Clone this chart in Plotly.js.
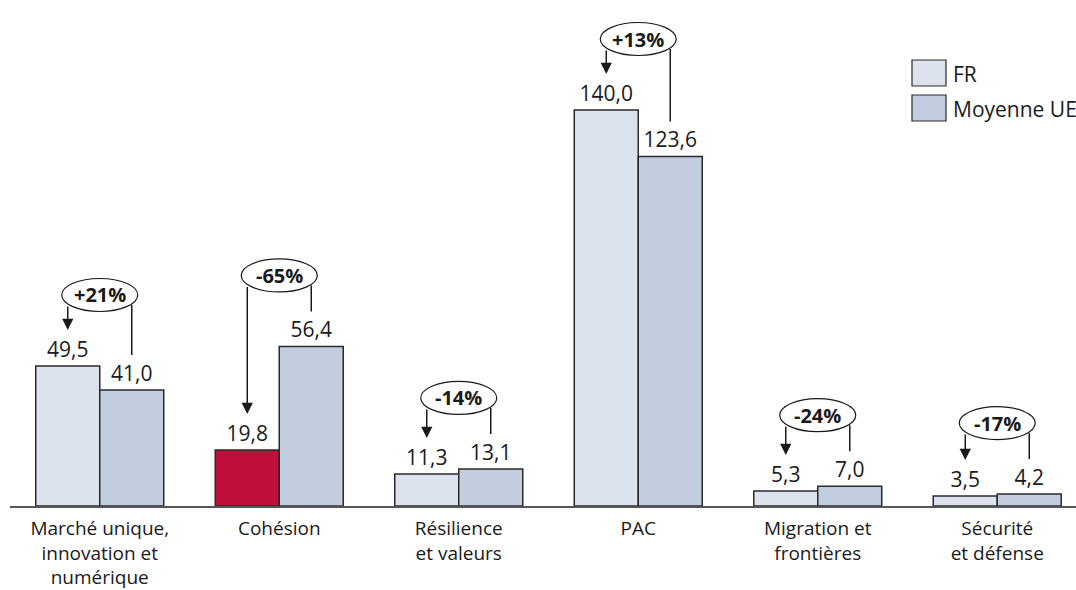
<!DOCTYPE html>
<html><head><meta charset="utf-8">
<script src="https://cdn.plot.ly/plotly-3.0.1.min.js"></script>
<style>html,body{margin:0;padding:0;background:#fff;overflow:hidden}#chart{width:1076px;height:590px;}</style>
</head><body><div id="chart"></div>
<script>
// ---- data ----
const categories = ['Marché unique,<br>innovation et<br>numérique', 'Cohésion', 'Résilience<br>et valeurs', 'PAC', 'Migration et<br>frontières', 'Sécurité<br>et défense'];
const frValues = [49.5, 19.8, 11.3, 140.0, 5.3, 3.5];
const ueValues = [41.0, 56.4, 13.1, 123.6, 7.0, 4.2];
const seriesNames = ['FR', 'Moyenne UE'];
const highlightCategory = 'Cohésion';

// ---- styles / layout constants ----
const FONT = '"Open Sans", sans-serif';
const FR_COLOR = '#DCE3EE', UE_COLOR = '#C3CDDF', HL_COLOR = '#C20E3A', EDGE = '#2a2a2a', TXT = '#1a1a1a';
const W = 1076, H = 590, ML = 10, MR = 0, MT = 0, MB = 84;
const plotW = W - ML - MR, plotH = H - MT - MB;
const catPx = 179.5;
const xMin = -0.5, xMax = xMin + plotW / catPx;
const pxPerUnit = 2.8286;
const yMax = plotH / pxPerUnit;
const bargap = 0.287;
const half = (1 - bargap) / 4; // offset of each bar center from category center
const u = px => px / pxPerUnit;      // px -> y units
const cu = px => px / catPx;         // px -> x units
const xp = px => (px - ML) / plotW;  // px -> paper x
const yp = py => (H - MB - py) / plotH; // px -> paper y

const frColors = categories.map(c => c.replace(/<br>/g, ' ') === highlightCategory ? HL_COLOR : FR_COLOR);

const traces = [
  {type: 'bar', name: seriesNames[0], x: categories, y: frValues,
   marker: {color: frColors, line: {color: EDGE, width: 1.5}},
   texttemplate: '%{y:.1f}', textposition: 'outside', cliponaxis: false,
   textfont: {family: FONT, size: 21, color: TXT}, hoverinfo: 'skip'},
  {type: 'bar', name: seriesNames[1], x: categories, y: ueValues,
   marker: {color: UE_COLOR, line: {color: EDGE, width: 1.5}},
   texttemplate: '%{y:.1f}', textposition: 'outside', cliponaxis: false,
   textfont: {family: FONT, size: 21, color: TXT}, hoverinfo: 'skip'}
];

const shapes = [], annotations = [];
const ellHW = cu(38), ellHH = u(16.5);
categories.forEach((c, i) => {
  const fr = frValues[i], ue = ueValues[i];
  const cy = Math.max(fr, ue) + u(71);
  const edge = cy - u(10);
  const xf = i - half, xu = i + half;
  // right plain line
  shapes.push({type: 'line', xref: 'x', yref: 'y', x0: xu, x1: xu, y0: edge, y1: ue + u(35), line: {color: TXT, width: 1.5}});
  // ellipse
  shapes.push({type: 'circle', xref: 'x', yref: 'y', x0: i - ellHW, x1: i + ellHW, y0: cy - ellHH, y1: cy + ellHH,
               fillcolor: '#fff', line: {color: TXT, width: 1.2}, layer: 'above'});
  // arrow
  annotations.push({xref: 'x', yref: 'y', axref: 'x', ayref: 'y', x: xf, y: fr + u(36), ax: xf, ay: edge,
                    showarrow: true, arrowhead: 2, arrowsize: 1.5, arrowwidth: 1.5, arrowcolor: TXT, standoff: 0, startstandoff: 0, text: ''});
  // percent
  const pct = Math.round((fr / ue - 1) * 100);
  annotations.push({xref: 'x', yref: 'y', x: i, y: cy, text: '<b>' + (pct > 0 ? '+' : '') + pct + '%</b>', showarrow: false,
                    font: {family: FONT, size: 20, color: TXT}, xanchor: 'center', yanchor: 'middle'});
});

// legend (custom)
const legendItems = [{name: seriesNames[0], color: FR_COLOR, top: 60}, {name: seriesNames[1], color: UE_COLOR, top: 95}];
legendItems.forEach(it => {
  shapes.push({type: 'rect', xref: 'paper', yref: 'paper', x0: xp(912), x1: xp(946), y0: yp(it.top + 26), y1: yp(it.top),
               fillcolor: it.color, line: {color: EDGE, width: 1.2}});
  annotations.push({xref: 'paper', yref: 'paper', x: xp(951), y: yp(it.top + 14), xanchor: 'left', yanchor: 'middle',
                    text: it.name, showarrow: false, font: {family: FONT, size: 21, color: TXT}});
});

const layout = {
  width: W, height: H, margin: {l: ML, r: MR, t: MT, b: MB},
  paper_bgcolor: '#fff', plot_bgcolor: '#fff', showlegend: false,
  barmode: 'group', bargap: bargap, bargroupgap: 0, separators: ',.',
  font: {family: FONT, color: TXT},
  xaxis: {type: 'category', range: [xMin, xMax], showline: true, linecolor: '#555', linewidth: 2,
          ticks: '', showgrid: false, zeroline: false, tickfont: {family: FONT, size: 19, color: TXT}, ticklabelstandoff: 4},
  yaxis: {range: [0, yMax], visible: false, showgrid: false, zeroline: false},
  shapes: shapes, annotations: annotations
};
Plotly.newPlot('chart', traces, layout, {staticPlot: true, displayModeBar: false});
</script></body></html>
